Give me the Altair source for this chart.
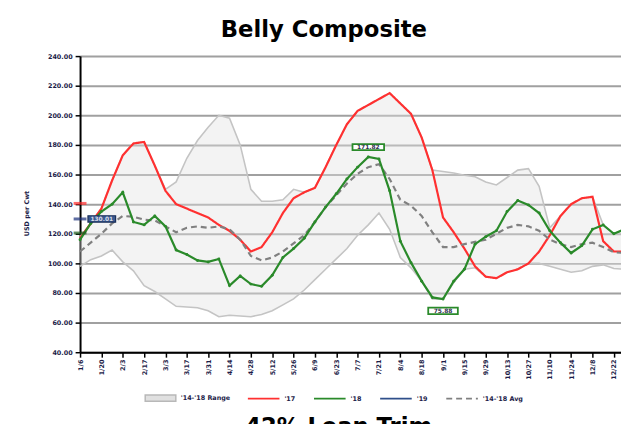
import altair as alt
import pandas as pd

weeks = list(range(52))
tick_labels = ["1/6", "1/20", "2/3", "2/17", "3/3", "3/17", "3/31", "4/14", "4/28", "5/12",
               "5/26", "6/9", "6/23", "7/7", "7/21", "8/4", "8/18", "9/1", "9/15", "9/29",
               "10/13", "10/27", "11/10", "11/24", "12/8", "12/22"]
y17 = [117, 127, 137, 156, 173, 181, 182, 166, 149, 140, 137, 134, 131, 126, 122, 116, 108, 111,
       121, 134, 144, 148, 151, 165, 180, 194, 203, 207, 211, 215, 208, 201, 185, 163, 131, 121,
       110, 98, 91, 90, 94, 96, 100, 108, 119, 132, 140, 144, 145, 115, 108, 108]
y18 = [116, 127, 135, 140, 148, 128, 126, 132, 125, 109, 106, 102, 101, 103, 85, 91.5, 86, 84.5,
       92, 104, 110, 117, 128, 138, 147, 157, 165, 171.82, 170.5, 149, 115, 100.5, 88, 77, 75.88,
       88, 96, 113, 118, 122, 135, 142.5, 139.5, 134, 122, 114, 107, 112, 123, 126, 120, 123]
avg = [108, 114, 120, 127, 132, 131.5, 129.5, 129, 125, 121, 124, 125, 124, 125, 123, 116, 105,
       102, 104, 108, 113.5, 119, 128, 138, 146, 154, 160.5, 165, 167, 157, 143, 139, 132, 121,
       111, 111, 113, 114.5, 116, 120, 124, 126, 125, 122, 116, 113, 111, 113, 114, 111, 107.5, 107]
upper = [118, 127, 137, 156, 173, 181, 182, 166, 150, 155, 171, 183, 192, 200, 198, 180, 150, 142,
         142, 143, 150, 148, 151, 165, 180, 194, 203, 207, 211, 215, 208, 201, 185, 163, 162, 161,
         159.5, 158.5, 155, 153, 158, 163, 164, 152, 124, 132, 140, 144, 145, 126, 120, 123]
lower = [98, 102.5, 105, 109, 101, 95, 85, 81, 76, 71, 70.5, 70, 68, 64, 65, 64.5, 64, 65.5, 68,
         72, 76, 82, 89, 96, 103, 110, 119, 126, 134, 123, 104, 97, 88, 76, 75.88, 87, 96, 97, 91,
         90, 94, 96, 100, 100, 98, 96, 94, 95, 98, 99, 96.5, 96]
y19_week = [0]
y19 = [130.01]
axis_marks_vals = [140.5, 130, 120.5]
axis_marks_cols = ["#ff2a2a", "#1a2f7a", "#1d5c1d"]
peak_labels_week = [27, 34]
peak_labels_val = [171.82, 75.88]

series_names = ["'17", "'18", "'19", "'14-'18 Avg"]
series_colors = ["#ff3030", "#2a8a2a", "#2f4f8a", "#808080"]
series_dash = [[1, 0], [1, 0], [1, 0], [6, 4]]

band_df = pd.DataFrame({"week": weeks, "lower": lower, "upper": upper,
                        "series": ["'14-'18 Range"] * len(weeks)})
lines_df = pd.concat([
    pd.DataFrame({"week": weeks, "value": y17, "series": "'17"}),
    pd.DataFrame({"week": weeks, "value": avg, "series": "'14-'18 Avg"}),
])
g18_df = pd.DataFrame({"week": weeks, "value": y18, "series": "'18"})
marks_df = pd.DataFrame({"week": [0] * 3, "value": axis_marks_vals, "col": axis_marks_cols})
y19_df = pd.DataFrame({"week": y19_week, "value": y19, "txt": [f"{v:.2f}" for v in y19]})
peak_df = pd.DataFrame({"week": peak_labels_week, "value": peak_labels_val,
                        "txt": [f"{v:.2f}" for v in peak_labels_val]})

FONT = "DejaVu Sans"
LABEL_COLOR = "#1c1c48"
xscale = alt.Scale(domain=[0, 50.67], nice=False, zero=False)
yscale = alt.Scale(domain=[40, 240], nice=False, zero=False)
label_arr = "[" + ",".join("'" + t + "'" for t in tick_labels) + "]"
xaxis = alt.Axis(values=list(range(0, 51, 2)), labelExpr=label_arr + "[datum.value/2]",
                 labelAngle=270, labelFont=FONT, labelFontSize=6.5, labelFontWeight="bold",
                 labelColor=LABEL_COLOR, domainColor="black", domainWidth=2, tickColor="black",
                 tickSize=5, tickWidth=1.5, grid=False, title=None, labelPadding=2)
yaxis = alt.Axis(values=list(range(40, 241, 20)), format=".2f", labelFont=FONT, labelFontSize=6.5,
                 labelFontWeight="bold", labelColor=LABEL_COLOR, domainColor="black",
                 domainWidth=2, tickColor="black", tickSize=5, tickWidth=1.5, grid=True,
                 gridColor="#a0a0a0", gridWidth=2, labelPadding=3, title="USD per Cwt",
                 titleFont=FONT, titleFontSize=6.5, titleFontWeight="bold", titleColor=LABEL_COLOR,
                 titleAngle=270, titleX=-54, titleY=159, titleAlign="center", titleBaseline="middle")


def X():
    return alt.X("week:Q", scale=xscale, axis=xaxis)


def Y(field="value"):
    return alt.Y(f"{field}:Q", scale=yscale, axis=yaxis)


band = alt.Chart(band_df).mark_area(opacity=0.4).encode(
    x=X(), y=Y("lower"), y2="upper:Q",
    fill=alt.Fill("series:N", scale=alt.Scale(domain=["'14-'18 Range"], range=["#e0e0e0"]),
                  legend=alt.Legend(orient="none", legendX=65, legendY=330, title=None,
                                    symbolType="M-1,-0.2H1V0.2H-1Z", symbolSize=961,
                                    symbolStrokeColor="#b8b8b8", symbolStrokeWidth=1.5,
                                    symbolOpacity=1, labelFont=FONT, labelFontSize=6.5,
                                    labelFontWeight="bold", labelColor=LABEL_COLOR,
                                    labelOffset=4)),
)
band_hi = alt.Chart(band_df).mark_line(color="#c4c4c4", strokeWidth=1.6).encode(x=X(), y=Y("upper"))
band_lo = alt.Chart(band_df).mark_line(color="#c4c4c4", strokeWidth=1.6).encode(x=X(), y=Y("lower"))

line_legend = alt.Legend(orient="none", legendX=169, legendY=330, title=None,
                         direction="horizontal", symbolType="stroke", symbolSize=1024,
                         symbolStrokeWidth=2, labelFont=FONT, labelFontSize=6.5,
                         labelFontWeight="bold", labelColor=LABEL_COLOR, labelOffset=4,
                         columnPadding=14)
stroke_enc = alt.Stroke("series:N", scale=alt.Scale(domain=series_names, range=series_colors),
                        legend=line_legend)
dash_enc = alt.StrokeDash("series:N", scale=alt.Scale(domain=series_names, range=series_dash),
                          legend=line_legend)

lines = alt.Chart(lines_df).mark_line(strokeWidth=2.2).encode(
    x=X(), y=Y(), stroke=stroke_enc, strokeDash=dash_enc, detail="series:N")
green = alt.Chart(g18_df).mark_line(strokeWidth=2.2, color="#2a8a2a",
                                     point=alt.OverlayMarkDef(size=9, filled=True,
                                                              color="#2a8a2a")).encode(
    x=X(), y=Y())

ticks = alt.Chart(marks_df).mark_tick(orient="horizontal", size=13, thickness=3).encode(
    x=X(), y=Y(), color=alt.Color("col:N", scale=None))

box19 = alt.Chart(y19_df).mark_point(shape="M-1,-0.23H1V0.23H-1Z", size=784, filled=True,
                                     fill="#3a5a90", stroke="#1a2f5a", strokeWidth=1.2,
                                     opacity=1, xOffset=22).encode(x=X(), y=Y())
txt19 = alt.Chart(y19_df).mark_text(font=FONT, fontSize=6, fontWeight="bold", color="#d8dce8",
                                    xOffset=22).encode(x=X(), y=Y(), text="txt:N")

box_pk = alt.Chart(peak_df.iloc[[0]]).mark_point(
    shape="M-1,-0.19H1V0.19H-1Z", size=1024, filled=True, fill="white", stroke="#2a8a2a",
    strokeWidth=1.8, opacity=1, yOffset=-10).encode(x=X(), y=Y())
txt_pk = alt.Chart(peak_df.iloc[[0]]).mark_text(
    font=FONT, fontSize=6, fontWeight="bold", color="#303050", yOffset=-10).encode(
    x=X(), y=Y(), text="txt:N")
box_tr = alt.Chart(peak_df.iloc[[1]]).mark_point(
    shape="M-1,-0.22H1V0.22H-1Z", size=900, filled=True, fill="white", stroke="#2a8a2a",
    strokeWidth=1.8, opacity=1, yOffset=12).encode(x=X(), y=Y())
txt_tr = alt.Chart(peak_df.iloc[[1]]).mark_text(
    font=FONT, fontSize=6, fontWeight="bold", color="#303050", yOffset=12).encode(
    x=X(), y=Y(), text="txt:N")

title_df = pd.DataFrame({"t": ["Belly Composite"]})
title_txt = alt.Chart(title_df).mark_text(font=FONT, fontSize=23, fontWeight="bold",
                                          color="black", baseline="alphabetic").encode(
    x=alt.value(247), y=alt.value(-19), text="t:N")
next_df = pd.DataFrame({"t": ["42% Lean Trim"]})
next_txt = alt.Chart(next_df).mark_text(font=FONT, fontSize=23, fontWeight="bold",
                                        color="black", baseline="alphabetic").encode(
    x=alt.value(262), y=alt.value(383), text="t:N")

chart = alt.layer(
    band, band_hi, band_lo, lines, green, ticks, box19, txt19, box_pk, txt_pk, box_tr, txt_tr,
    title_txt, next_txt
).properties(
    width=548, height=300,
    autosize=alt.AutoSizeParams(type="none"),
    padding={"left": 73, "top": 46, "right": 0, "bottom": 70},
).configure_view(stroke=None).configure(background="white")

chart.save("out.html", embed_options={"renderer": "svg", "actions": False})
